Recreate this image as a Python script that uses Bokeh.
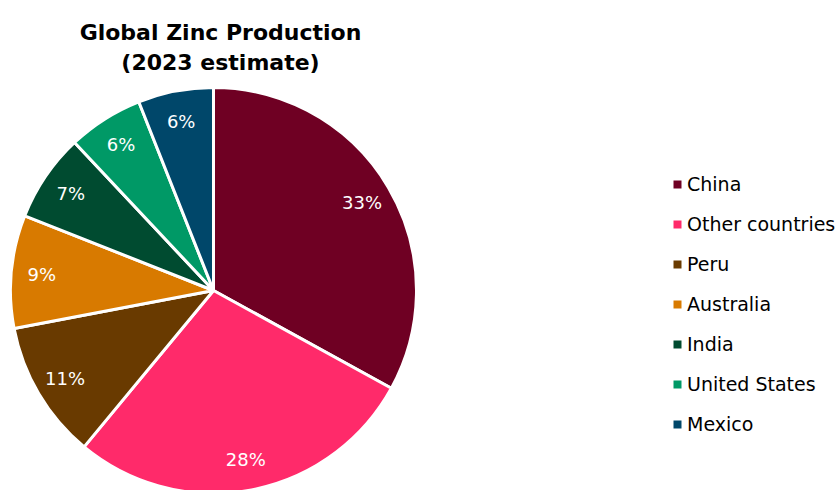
import math
from bokeh.plotting import figure
from bokeh.models import ColumnDataSource, Range1d, Legend, LegendItem, Label
from bokeh.embed import file_html
from bokeh.resources import INLINE

countries = ["China", "Other countries", "Peru", "Australia", "India", "United States", "Mexico"]
shares = [33, 28, 11, 9, 7, 6, 6]
colors = ["#6F0023", "#FF2A6A", "#693A00", "#D87A00", "#004B30", "#009966", "#00476A"]

W, H = 839, 490
CX, CY, R = 213, H - 290, 203
FONT = "DejaVu Sans"

total = float(sum(shares))
starts, ends, lx, ly, labels = [], [], [], [], []
cum = 0.0
for s in shares:
    a0 = math.pi / 2 - 2 * math.pi * (cum + s) / total
    a1 = math.pi / 2 - 2 * math.pi * cum / total
    starts.append(a0)
    ends.append(a1)
    mid = (a0 + a1) / 2
    lx.append(CX + 0.85 * R * math.cos(mid))
    ly.append(CY + 0.85 * R * math.sin(mid))
    labels.append(f"{round(100 * s / total)}%")
    cum += s

src = ColumnDataSource(dict(country=countries, start=starts, end=ends, color=colors,
                            lx=lx, ly=ly, label=labels))

p = figure(width=W, height=H, output_backend="svg", toolbar_location=None,
           x_range=Range1d(0, W), y_range=Range1d(0, H), min_border=0)
p.axis.visible = False
p.grid.visible = False
p.outline_line_color = None

wr = p.wedge(x=CX, y=CY, radius=R, start_angle="start", end_angle="end",
             fill_color="color", line_color="white", line_width=3, source=src)

# legend-only square swatches (no visible data)
nan = float("nan")
leg_src = ColumnDataSource(dict(l=[nan] * len(countries), r=[nan] * len(countries),
                                b=[nan] * len(countries), t=[nan] * len(countries),
                                color=colors))
qr = p.quad(left="l", right="r", bottom="b", top="t", fill_color="color",
            line_color=None, source=leg_src)

p.text(x="lx", y="ly", text="label", source=src, text_color="white",
       text_align="center", text_baseline="middle", text_font_size="18px",
       text_font={"value": FONT})

for i, line in enumerate(["Global Zinc Production", "(2023 estimate)"]):
    p.add_layout(Label(x=220, y=H - 32 - 30 * i, x_units="screen", y_units="screen",
                       text=line, text_align="center", text_baseline="middle",
                       text_font=FONT, text_font_style="bold", text_font_size="22px",
                       text_color="#000000"))

items = [LegendItem(label=c, renderers=[qr], index=i) for i, c in enumerate(countries)]
legend = Legend(items=items, location=(672, 55), padding=0, margin=0,
                glyph_width=10, glyph_height=10, label_standoff=5, spacing=18,
                label_height=20, label_text_font=FONT, label_text_font_size="19px",
                label_text_color="#000000", border_line_color=None,
                background_fill_alpha=0)
p.add_layout(legend, "center")

open("out.html", "w").write(file_html(p, INLINE))
